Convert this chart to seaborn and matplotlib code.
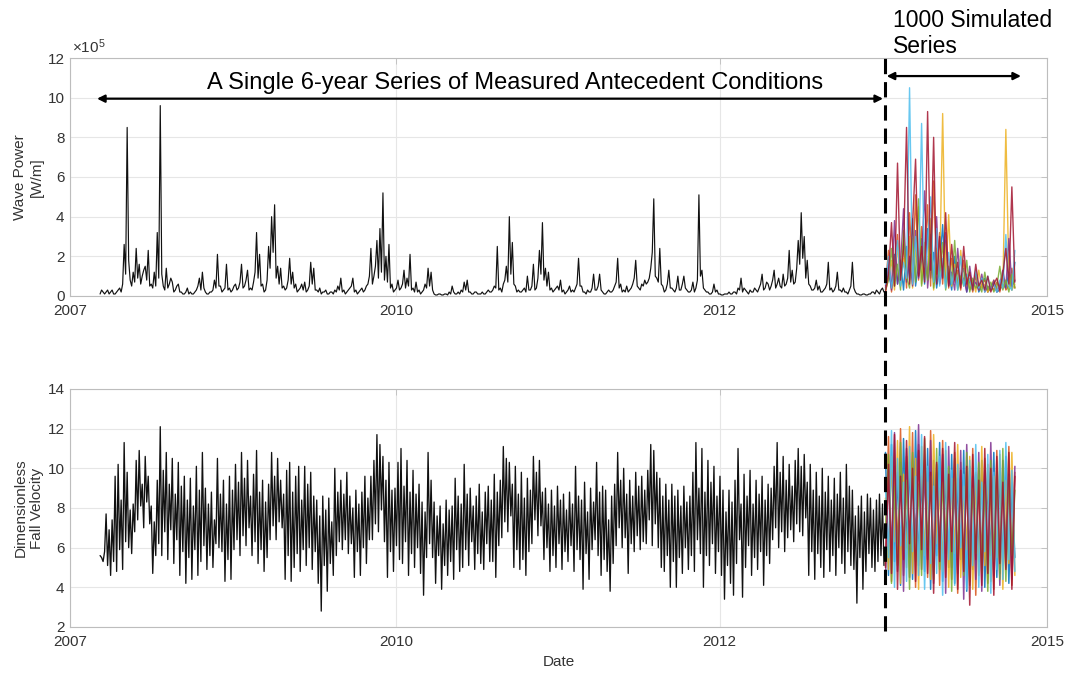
import numpy as np
import pandas as pd
import matplotlib
matplotlib.use("Agg")
import matplotlib.pyplot as plt
import matplotlib.transforms as mtransforms
from matplotlib.lines import Line2D
import seaborn as sns

# --- time axis: decimal years ---
meas_start = 2007.246
meas_step = 4.5 / 365.25   # measured record, read every 4.5 days
sim_step = 9 / 365.25      # simulated series, read every 9 days

# measured wave power (x1e5 W/m)
wave_power = [
    0.1, 0.3, 0.2, 0.1, 0.2, 0.3, 0.1, 0.2, 0.3, 0.1, 0.1, 0.2, 0.3, 0.4, 0.2, 0.6, 2.6, 1.1, 8.5, 1.8,
    0.8, 0.5, 1.2, 0.7, 2.4, 0.9, 1.6, 0.6, 1.0, 1.3, 1.5, 0.8, 2.3, 0.5, 0.6, 0.4, 1.2, 0.5, 3.2, 0.9,
    9.6, 1.1, 0.5, 0.3, 1.4, 0.4, 0.6, 0.9, 0.7, 0.2, 0.3, 0.5, 0.6, 0.2, 0.2, 0.1, 0.1, 0.2, 0.4, 0.1,
    0.2, 0.1, 0.1, 0.2, 0.3, 0.5, 0.9, 0.3, 1.2, 0.4, 0.2, 0.1, 0.1, 0.2, 0.2, 0.3, 0.8, 0.4, 2.1, 0.5,
    0.5, 0.2, 0.3, 0.4, 1.6, 0.3, 0.4, 0.2, 0.3, 0.5, 0.6, 0.3, 0.4, 0.7, 1.6, 0.4, 0.5, 0.8, 1.3, 0.3,
    0.4, 0.3, 0.7, 1.2, 3.2, 0.9, 2.1, 0.5, 0.6, 0.2, 0.3, 0.8, 2.5, 1.4, 4.0, 2.2, 4.6, 0.9, 1.5, 0.6,
    1.4, 0.4, 0.5, 0.3, 0.4, 0.8, 1.9, 0.6, 1.2, 0.4, 0.6, 0.2, 0.3, 0.4, 0.6, 0.3, 0.7, 0.2, 0.3, 0.5,
    1.7, 0.6, 1.4, 0.3, 0.3, 0.2, 0.4, 0.1, 0.2, 0.2, 0.3, 0.1, 0.1, 0.2, 0.2, 0.1, 0.3, 0.2, 0.5, 0.3,
    0.9, 0.2, 0.3, 0.1, 0.2, 0.3, 0.4, 0.5, 0.9, 0.2, 0.3, 0.1, 0.2, 0.3, 0.4, 0.2, 0.3, 0.5, 0.6, 1.0,
    2.4, 0.6, 1.0, 1.5, 2.8, 0.9, 3.4, 1.2, 5.2, 0.8, 2.0, 0.7, 2.6, 0.4, 0.6, 0.2, 0.3, 0.4, 0.8, 0.3,
    0.4, 0.6, 1.3, 0.4, 0.9, 0.5, 2.1, 0.3, 0.4, 0.2, 0.7, 0.2, 0.3, 0.1, 0.2, 0.3, 0.6, 0.4, 1.4, 0.5,
    1.2, 0.3, 0.1, 0.05, 0.05, 0.1, 0.1, 0.05, 0.05, 0.1, 0.1, 0.05, 0.2, 0.1, 0.5, 0.2, 0.1, 0.1, 0.2, 0.1,
    0.3, 0.2, 0.7, 0.3, 0.8, 0.2, 0.2, 0.1, 0.1, 0.2, 0.2, 0.1, 0.1, 0.1, 0.2, 0.1, 0.1, 0.2, 0.3, 0.2,
    0.2, 0.3, 0.5, 0.4, 2.5, 0.3, 0.4, 0.2, 0.6, 0.8, 1.5, 0.7, 4.0, 1.1, 2.7, 0.6, 0.5, 0.2, 0.3, 0.2,
    0.2, 0.3, 0.4, 0.2, 1.0, 0.3, 0.3, 0.5, 1.6, 0.3, 0.4, 0.9, 2.3, 1.1, 3.7, 0.8, 1.4, 0.5, 1.2, 0.3,
    0.4, 0.2, 0.3, 0.4, 0.5, 0.3, 0.8, 0.2, 0.3, 0.1, 0.2, 0.3, 0.5, 0.2, 0.3, 0.2, 0.4, 0.6, 1.9, 0.5,
    0.5, 0.2, 0.2, 0.1, 0.3, 0.2, 0.2, 0.4, 1.1, 0.3, 0.3, 0.5, 1.1, 0.3, 0.2, 0.1, 0.1, 0.2, 0.3, 0.2,
    0.2, 0.3, 0.5, 0.7, 1.9, 0.4, 0.6, 0.2, 0.3, 0.2, 0.5, 0.2, 0.3, 0.4, 0.6, 0.9, 1.8, 0.5, 0.4, 0.3,
    0.6, 0.5, 0.8, 0.6, 0.7, 0.9, 1.4, 2.2, 4.9, 1.0, 0.9, 0.7, 2.4, 0.6, 0.5, 0.2, 0.3, 0.6, 1.3, 0.4,
    0.4, 0.3, 0.2, 0.4, 1.0, 0.3, 0.3, 0.6, 1.0, 0.4, 0.3, 0.2, 0.2, 0.3, 0.7, 0.2, 0.4, 0.8, 5.1, 1.0,
    1.3, 0.4, 0.3, 0.2, 0.2, 0.1, 0.1, 0.2, 0.6, 0.2, 0.3, 0.1, 0.1, 0.05, 0.05, 0.1, 0.1, 0.1, 0.2, 0.1,
    0.1, 0.2, 0.2, 0.1, 0.4, 0.3, 0.9, 0.2, 0.4, 0.3, 0.2, 0.1, 0.3, 0.2, 0.2, 0.4, 0.3, 0.2, 0.4, 0.6,
    1.1, 0.3, 0.4, 0.7, 0.6, 0.3, 0.5, 0.8, 1.3, 0.4, 0.6, 0.9, 0.5, 0.4, 1.1, 0.5, 0.6, 0.9, 2.3, 0.7,
    1.3, 0.6, 0.7, 1.4, 2.8, 1.6, 4.2, 1.9, 3.0, 0.9, 1.8, 0.6, 0.5, 0.3, 0.3, 0.4, 0.8, 0.3, 0.5, 0.2,
    0.2, 0.3, 0.4, 0.6, 1.7, 0.3, 0.4, 0.2, 0.3, 0.5, 1.2, 0.3, 0.3, 0.2, 0.4, 0.2, 0.2, 0.1, 0.3, 0.5,
    1.7, 0.4, 0.2, 0.1, 0.1, 0.05, 0.05, 0.1, 0.1, 0.05, 0.05, 0.1, 0.1, 0.2, 0.2, 0.1, 0.3, 0.2, 0.1, 0.3,
    0.4, 0.2,
]

# measured dimensionless fall velocity
fall_velocity = [
    5.6, 5.5, 5.3, 5.8, 7.7, 5.1, 6.9, 4.6, 7.4, 5.3, 9.6, 4.8, 10.2, 5.9, 8.4, 4.9, 11.3, 6.3, 9.8, 6.0,
    7.9, 5.7, 8.2, 6.8, 10.4, 7.4, 10.9, 8.1, 9.2, 7.0, 10.6, 8.3, 9.6, 7.2, 8.1, 4.7, 7.3, 5.6, 9.4, 6.2,
    12.1, 5.6, 9.9, 6.8, 10.8, 5.4, 9.2, 6.9, 10.5, 5.2, 8.7, 6.4, 10.3, 4.6, 9.1, 5.8, 9.6, 4.2, 8.4, 5.5,
    9.5, 4.4, 8.1, 5.9, 10.1, 4.6, 8.9, 5.3, 10.8, 6.1, 9.0, 4.9, 8.2, 5.6, 8.8, 5.0, 7.4, 6.2, 10.5, 6.0,
    8.7, 5.8, 9.4, 4.3, 8.2, 5.4, 9.6, 4.4, 8.9, 5.9, 10.2, 6.4, 9.3, 5.6, 10.8, 6.6, 9.5, 6.1, 10.4, 7.0,
    8.6, 5.6, 9.7, 6.3, 10.9, 5.2, 8.8, 5.9, 9.4, 4.8, 8.3, 5.5, 9.2, 6.4, 10.8, 7.1, 9.6, 6.4, 10.5, 7.3,
    9.4, 7.0, 8.7, 4.4, 9.9, 5.6, 10.3, 4.3, 8.8, 5.0, 9.6, 5.7, 10.1, 4.8, 8.4, 5.9, 10.1, 5.1, 9.2, 6.0,
    9.8, 4.9, 8.6, 5.8, 8.4, 4.2, 7.6, 2.8, 8.6, 5.1, 7.9, 3.8, 8.5, 5.2, 7.3, 4.6, 10.0, 5.6, 8.8, 6.3,
    9.4, 5.9, 8.7, 6.4, 9.8, 5.7, 8.6, 6.2, 8.0, 4.5, 8.9, 5.8, 8.2, 4.6, 8.8, 6.0, 9.6, 5.2, 8.5, 6.4,
    9.6, 6.4, 10.4, 7.2, 11.7, 6.8, 11.2, 7.9, 10.6, 6.3, 9.4, 4.5, 10.3, 5.8, 8.9, 4.8, 9.0, 6.1, 10.3, 5.4,
    11.0, 5.2, 9.1, 6.3, 10.4, 4.6, 8.8, 5.7, 9.9, 5.0, 8.7, 6.0, 9.2, 4.7, 8.3, 3.6, 7.8, 5.5, 10.8, 6.2,
    9.4, 5.5, 8.3, 4.2, 7.6, 5.6, 8.1, 3.9, 7.2, 5.1, 8.4, 4.6, 7.9, 5.3, 8.1, 4.4, 9.5, 5.9, 8.6, 4.8,
    8.2, 5.0, 10.2, 5.9, 8.7, 5.1, 9.0, 6.3, 8.1, 4.9, 8.6, 5.7, 9.2, 5.2, 7.8, 4.9, 8.8, 6.2, 9.1, 5.3,
    8.4, 5.3, 9.7, 4.5, 8.8, 6.1, 9.4, 6.5, 11.1, 7.3, 10.5, 6.8, 10.3, 7.6, 9.2, 5.0, 10.1, 5.9, 8.7, 4.9,
    9.8, 5.4, 8.5, 4.6, 9.5, 5.8, 8.9, 6.2, 10.6, 7.4, 9.8, 6.6, 10.4, 7.1, 8.8, 5.4, 9.0, 6.0, 8.2, 4.8,
    8.9, 5.6, 8.1, 5.0, 9.1, 6.2, 8.4, 4.9, 8.7, 5.8, 7.9, 5.3, 8.8, 6.1, 8.2, 4.8, 10.1, 5.9, 8.6, 5.4,
    8.4, 3.9, 9.3, 5.7, 7.8, 4.4, 9.0, 5.9, 8.3, 6.4, 10.3, 5.6, 8.8, 4.6, 9.1, 5.4, 8.9, 4.8, 7.4, 3.8,
    8.6, 5.2, 9.2, 6.1, 10.8, 7.0, 9.4, 6.0, 10.0, 6.5, 8.7, 4.7, 9.4, 6.2, 8.6, 5.8, 9.8, 6.6, 9.1, 5.9,
    9.6, 6.3, 8.9, 6.2, 9.9, 7.4, 11.2, 6.1, 10.9, 7.2, 9.8, 6.0, 9.5, 5.0, 8.6, 4.8, 9.2, 5.6, 8.4, 4.0,
    9.2, 5.3, 8.6, 4.0, 8.9, 5.5, 8.1, 4.7, 9.1, 6.0, 8.3, 4.9, 8.6, 5.6, 9.8, 4.8, 11.3, 6.4, 9.0, 5.7,
    11.0, 4.0, 8.8, 5.6, 10.4, 5.1, 9.3, 6.2, 10.1, 4.7, 8.6, 5.8, 9.6, 4.6, 8.9, 3.4, 7.8, 5.1, 8.9, 4.2,
    8.3, 3.6, 9.4, 5.2, 11.0, 6.4, 8.2, 3.5, 9.7, 5.0, 8.6, 6.1, 9.9, 4.6, 8.2, 5.5, 9.4, 4.9, 8.7, 5.8,
    9.6, 4.1, 8.4, 5.6, 9.2, 5.2, 9.0, 6.4, 10.1, 7.0, 11.3, 6.0, 9.8, 6.8, 10.6, 5.8, 9.4, 6.5, 10.2, 6.9,
    9.1, 6.3, 10.4, 7.2, 11.0, 6.8, 10.1, 6.6, 10.7, 7.5, 9.3, 4.6, 10.2, 5.8, 8.9, 4.4, 9.8, 5.7, 8.6, 5.0,
    10.0, 4.5, 8.8, 5.9, 9.6, 4.8, 8.4, 5.6, 9.5, 4.6, 8.7, 6.0, 9.8, 5.2, 8.5, 4.7, 10.2, 5.8, 9.1, 5.1,
    8.9, 4.9, 7.6, 3.2, 8.1, 5.5, 8.6, 3.9, 7.8, 4.8, 8.7, 5.7, 8.5, 5.0, 7.9, 4.8, 8.4, 5.3, 8.7, 5.6,
    8.2, 5.1,
]

# a few of the simulated series (wave power, x1e5 W/m)
sim_wave_blue = [0.3, 1.2, 0.4, 2.1, 0.6, 1.8, 0.3, 2.5, 0.8, 3.9, 0.5, 1.7, 2.9, 0.6, 3.4, 0.9, 2.2, 0.4, 1.5, 3.6, 0.7, 1.2, 0.3, 2.0, 0.5, 0.9, 1.4, 0.2, 0.8, 0.3, 1.1, 0.2, 0.5, 0.9, 0.2, 0.4, 0.7, 0.2, 0.3, 0.6, 0.4, 1.2, 0.3, 1.7]
sim_wave_orange = [0.5, 2.3, 0.2, 1.4, 3.1, 0.7, 2.6, 0.4, 4.2, 1.0, 5.1, 0.8, 3.5, 1.6, 4.6, 0.5, 5.8, 1.1, 3.2, 0.6, 2.8, 0.4, 1.9, 0.7, 1.3, 0.3, 1.8, 0.5, 0.9, 0.2, 1.0, 0.3, 0.6, 0.8, 0.2, 0.5, 0.3, 0.7, 0.2, 0.9, 0.3, 0.5, 1.4, 0.4]
sim_wave_yellow = [0.2, 0.9, 1.8, 0.3, 2.6, 0.5, 1.9, 0.8, 3.0, 0.4, 2.2, 4.5, 0.6, 2.7, 0.9, 3.9, 0.3, 2.4, 1.1, 9.2, 0.8, 4.1, 0.5, 1.6, 0.4, 2.3, 0.7, 1.1, 0.3, 0.8, 0.2, 1.3, 0.4, 0.6, 0.2, 0.5, 0.8, 0.3, 0.6, 0.4, 8.4, 1.0, 0.3, 0.6]
sim_wave_purple = [0.4, 1.7, 0.3, 3.8, 0.6, 1.5, 4.4, 0.7, 2.0, 0.5, 3.3, 0.9, 1.8, 5.3, 0.4, 2.1, 0.8, 4.0, 0.6, 1.4, 3.2, 0.5, 1.2, 0.3, 2.4, 0.6, 0.9, 0.2, 1.5, 0.4, 0.7, 0.3, 1.1, 0.2, 0.5, 0.3, 0.8, 0.2, 0.6, 1.3, 0.4, 2.9, 0.5, 0.8]
sim_wave_green = [0.3, 0.8, 2.4, 0.5, 1.6, 0.3, 3.3, 1.0, 0.4, 2.9, 0.7, 4.9, 0.5, 2.0, 0.8, 3.1, 0.4, 1.6, 0.9, 2.7, 0.3, 1.5, 0.6, 2.8, 0.3, 1.0, 0.5, 1.8, 0.2, 0.9, 0.4, 0.6, 0.2, 1.2, 0.3, 0.7, 0.2, 0.5, 1.5, 0.3, 0.8, 0.2, 1.1, 0.4]
sim_wave_cyan = [0.6, 2.0, 0.4, 1.3, 2.8, 0.5, 1.7, 0.9, 10.5, 0.6, 3.0, 1.2, 8.7, 0.8, 2.6, 5.0, 0.7, 3.4, 0.5, 1.9, 0.4, 2.2, 0.6, 1.4, 0.3, 2.0, 0.5, 1.1, 0.8, 0.3, 1.3, 0.4, 0.9, 0.2, 1.0, 0.3, 0.6, 0.2, 0.8, 0.4, 3.1, 0.5, 0.3, 2.3]
sim_wave_red = [0.2, 1.1, 3.7, 0.5, 6.7, 0.8, 2.4, 8.5, 0.6, 3.6, 6.9, 1.0, 2.5, 0.7, 9.3, 1.3, 8.0, 0.6, 3.0, 0.9, 4.2, 0.5, 2.6, 0.8, 1.7, 0.4, 2.5, 0.6, 1.2, 0.3, 1.6, 0.5, 0.8, 0.3, 1.0, 0.2, 0.6, 0.9, 0.3, 1.1, 2.4, 0.6, 5.5, 0.7]

# simulated fall velocity series
sim_fall_blue = [10.8, 4.6, 11.2, 5.3, 9.8, 4.1, 11.5, 6.0, 10.3, 4.4, 11.9, 5.1, 9.6, 4.8, 11.0, 3.9, 10.4, 5.6, 11.3, 4.3, 9.9, 5.0, 10.7, 4.2, 9.5, 5.4, 10.9, 3.8, 10.1, 4.9, 9.7, 5.3, 10.4, 4.0, 9.4, 5.6, 10.8, 4.5, 9.9, 5.1, 10.6, 4.2, 9.3, 5.5]
sim_fall_orange = [5.2, 11.6, 4.3, 10.1, 5.8, 12.0, 4.6, 10.6, 5.5, 11.8, 4.0, 11.2, 6.1, 10.4, 4.5, 11.9, 5.0, 10.2, 4.1, 11.4, 5.7, 9.6, 4.4, 10.8, 3.7, 10.3, 5.2, 9.8, 4.3, 11.0, 3.6, 9.9, 5.4, 10.5, 4.2, 9.6, 3.9, 10.9, 4.7, 9.4, 5.8, 11.1, 4.1, 9.8]
sim_fall_yellow = [8.5, 4.9, 10.6, 6.3, 11.4, 4.2, 9.7, 5.0, 12.1, 4.7, 10.5, 3.9, 11.1, 5.6, 9.3, 4.4, 11.7, 6.2, 9.0, 4.8, 10.9, 4.0, 9.5, 5.7, 11.2, 4.5, 9.1, 5.9, 10.6, 3.9, 9.8, 4.6, 11.1, 5.1, 10.2, 4.3, 9.6, 5.5, 10.7, 3.9, 9.4, 5.2, 10.8, 4.6]
sim_fall_purple = [4.4, 9.9, 5.7, 11.8, 4.8, 10.3, 3.8, 11.0, 4.5, 9.5, 6.4, 12.2, 4.9, 10.0, 5.4, 11.4, 4.2, 9.8, 5.9, 10.7, 3.7, 11.1, 5.0, 9.2, 4.7, 10.9, 3.4, 11.2, 5.6, 9.6, 4.4, 10.8, 3.8, 9.9, 5.2, 11.3, 4.6, 9.5, 4.1, 10.4, 5.0, 9.7, 4.4, 10.1]
sim_fall_green = [6.8, 10.7, 4.2, 9.1, 5.1, 11.3, 5.9, 9.4, 3.9, 10.8, 5.3, 9.2, 4.6, 11.5, 6.0, 9.6, 4.4, 11.0, 4.9, 9.3, 6.3, 10.1, 3.8, 10.5, 5.5, 9.4, 4.6, 10.8, 4.1, 9.0, 5.7, 10.3, 4.7, 9.2, 3.8, 10.4, 5.3, 9.8, 4.4, 11.0, 4.3, 9.6, 5.6, 8.9]
sim_fall_cyan = [9.2, 5.5, 11.9, 4.0, 10.5, 6.1, 9.3, 4.3, 11.1, 5.8, 9.6, 4.6, 11.7, 3.9, 10.1, 5.2, 9.1, 4.7, 10.6, 3.6, 11.3, 5.4, 9.9, 4.1, 10.2, 6.0, 9.7, 3.9, 10.4, 5.1, 11.2, 4.0, 9.3, 5.8, 10.7, 3.7, 9.8, 4.9, 10.9, 4.4, 11.3, 5.4, 9.9, 4.8]
sim_fall_red = [5.0, 10.2, 4.7, 11.7, 3.9, 9.6, 5.4, 11.4, 6.2, 10.0, 4.3, 10.9, 5.9, 11.6, 4.7, 9.8, 3.7, 10.3, 5.3, 11.0, 4.5, 9.7, 5.8, 11.3, 3.9, 9.9, 4.8, 10.1, 3.1, 10.7, 5.4, 9.4, 4.1, 11.0, 4.7, 10.0, 3.6, 10.6, 5.2, 9.3, 4.9, 10.8, 3.9, 9.6]

sim_names = ["blue", "orange", "yellow", "purple", "green", "cyan", "red"]
sim_wave = [sim_wave_blue, sim_wave_orange, sim_wave_yellow, sim_wave_purple,
            sim_wave_green, sim_wave_cyan, sim_wave_red]
sim_fall = [sim_fall_blue, sim_fall_orange, sim_fall_yellow, sim_fall_purple,
            sim_fall_green, sim_fall_cyan, sim_fall_red]
matlab_colors = ["#0072BD", "#D95319", "#EDB120", "#7E2F8E", "#77AC30", "#4DBEEE", "#A2142F"]

x_ticks = [2007.0, 2009.67, 2012.32, 2015.0]
x_ticklabels = ["2007", "2010", "2012", "2015"]

# ---- frames ----
meas_t = meas_start + meas_step * np.arange(len(wave_power))
df_meas = pd.DataFrame({"t": meas_t, "wave": wave_power, "fall": fall_velocity})
sim_start = meas_start + meas_step * len(wave_power)

rows = []
for name, w, f in zip(sim_names, sim_wave, sim_fall):
    for k in range(len(w)):
        rows.append({"t": sim_start + sim_step * k, "wave": w[k], "fall": f[k], "serie": name})
df_sim = pd.DataFrame(rows)
sim_end = df_sim["t"].max()

sns.set_style("white")
plt.rcParams["font.family"] = ["Liberation Sans", "DejaVu Sans"]
plt.rcParams["mathtext.fontset"] = "custom"
plt.rcParams["mathtext.rm"] = "Liberation Sans"

fig = plt.figure(figsize=(10.66, 6.73), dpi=100)
ax1 = fig.add_axes([0.0657, 0.5602, 0.9165, 0.3536])
ax2 = fig.add_axes([0.0657, 0.0684, 0.9165, 0.3536])

palette = dict(zip(sim_names, matlab_colors))
widths = {"wave": (0.85, 1.0), "fall": (0.95, 1.1)}
for ax, col in [(ax1, "wave"), (ax2, "fall")]:
    lw_meas, lw_sim = widths[col]
    sns.lineplot(data=df_meas, x="t", y=col, color="#111111", lw=lw_meas, ax=ax)
    sns.lineplot(data=df_sim, x="t", y=col, hue="serie", palette=palette,
                 lw=lw_sim, alpha=0.85, legend=False, ax=ax)
    ax.set_xlim(2007, 2015)
    ax.set_xticks(x_ticks)
    ax.set_xticklabels(x_ticklabels)
    ax.grid(True, color="#e6e6e6", lw=0.8)
    ax.set_axisbelow(True)
    for s in ax.spines.values():
        s.set_color("#bdbdbd")
        s.set_linewidth(0.8)
    ax.tick_params(direction="in", length=4, width=0.6, color="#bdbdbd",
                   labelsize=11, labelcolor="#333333", top=True, right=True,
                   labeltop=False, labelright=False, pad=4)
    ax.tick_params(axis="x", pad=6)
    ax.set_xlabel("")

ax1.set_ylim(0, 12)
ax1.set_yticks(range(0, 13, 2))
ax1.set_ylabel("Wave Power\n[W/m]", fontsize=11, color="#333333")
ax1.yaxis.set_label_coords(-0.027, 0.5)
ax1.text(0.002, 1.01, r"$\times\mathregular{10^5}$", transform=ax1.transAxes,
         ha="left", va="bottom", fontsize=11, color="#333333")

ax2.set_ylim(2, 14)
ax2.set_yticks(range(2, 15, 2))
ax2.set_ylabel("Dimensionless\nFall Velocity", fontsize=11, color="#333333")
ax2.yaxis.set_label_coords(-0.027, 0.5)
ax2.set_xlabel("Date", fontsize=11, color="#333333")
ax2.xaxis.set_label_coords(0.5, -0.118)

# annotations
ax1.annotate("", xy=(meas_start - 0.025, 9.95), xytext=(sim_start - 0.02, 9.95),
             arrowprops=dict(arrowstyle="<|-|>", color="black", lw=1.6,
                             mutation_scale=11, shrinkA=0, shrinkB=0))
ax1.text(2010.64, 10.75, "A Single 6-year Series of Measured Antecedent Conditions",
         ha="center", va="center", fontsize=17, color="black")
ax1.annotate("", xy=(sim_start + 0.01, 11.09), xytext=(sim_end + 0.05, 11.09),
             arrowprops=dict(arrowstyle="<|-|>", color="black", lw=1.6,
                             mutation_scale=11, shrinkA=0, shrinkB=0))
fig.text(0.8377, 0.987, "1000 Simulated\nSeries", ha="left", va="top",
         fontsize=16.5, color="black", linespacing=1.2)

trans = mtransforms.blended_transform_factory(ax1.transData, fig.transFigure)
fig.add_artist(Line2D([sim_start, sim_start], [0.062, 0.924], transform=trans,
                      color="black", lw=2.2, ls=(0, (5, 2.6))))

fig.savefig("out.png", dpi=100)
